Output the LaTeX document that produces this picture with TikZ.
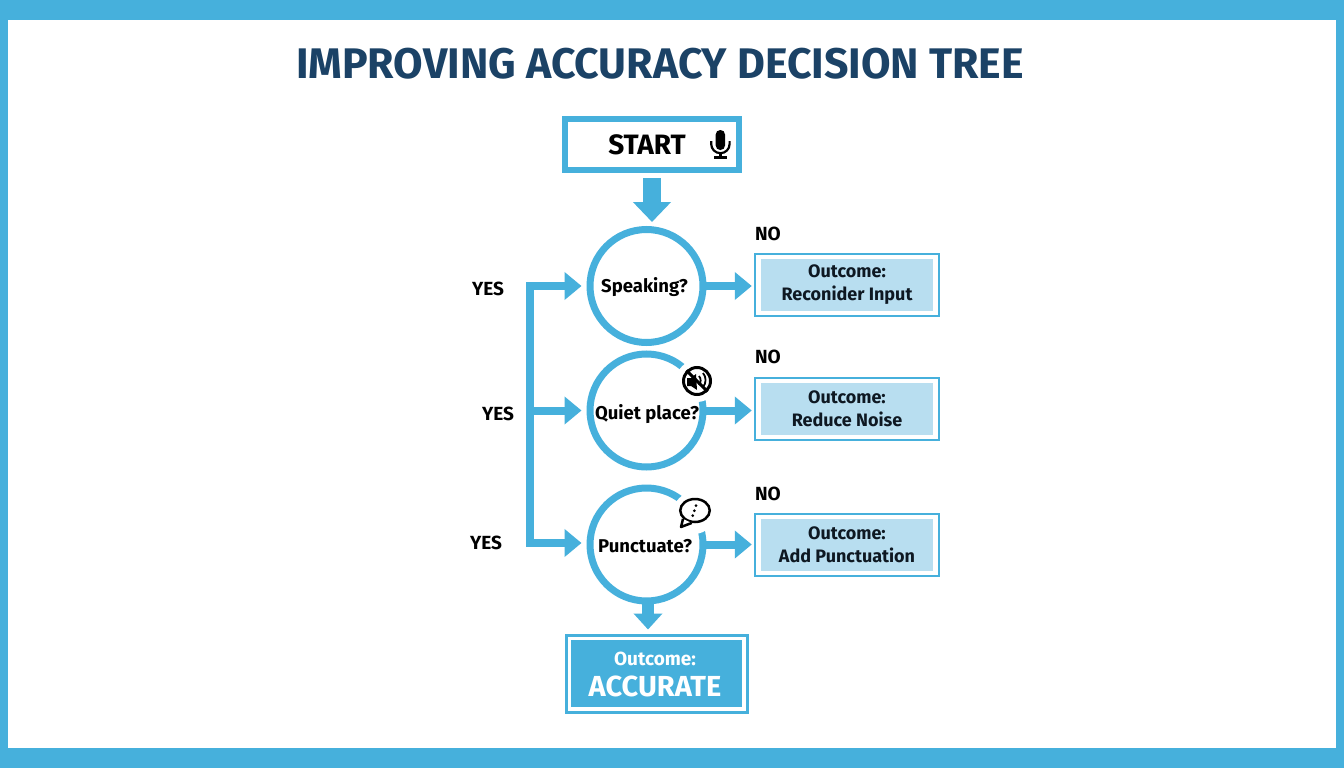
\documentclass[tikz,border=0pt]{standalone}
\usepackage{fontspec}
\setmainfont{Fira Sans}
\usetikzlibrary{arrows.meta,shapes.geometric}
\begin{document}
\begin{tikzpicture}[x=1pt,y=-1pt]
\definecolor{framecolor}{RGB}{70,176,220}
\definecolor{palecolor}{RGB}{184,222,240}
\definecolor{titlecolor}{RGB}{27,66,102}
\definecolor{inkcolor}{RGB}{14,24,34}
\tikzstyle{question}=[draw=framecolor,line width=7pt,circle,minimum size=113pt,inner sep=0pt]
\tikzstyle{asktext}=[text=black,font=\fontsize{18.5}{23}\selectfont\bfseries]
\tikzstyle{yesno}=[text=black,font=\fontsize{19}{23}\selectfont\bfseries]
\tikzstyle{frame}=[draw=framecolor,line width=2.5pt,fill=white,minimum width=184pt,minimum height=62pt,inner sep=0pt]
\tikzstyle{outcome}=[fill=palecolor,minimum width=172pt,minimum height=52pt,inner sep=0pt,align=center,text=inkcolor,font=\fontsize{18}{23}\selectfont\bfseries,execute at begin node=\rule{0pt}{16pt}]
\tikzstyle{arrow}=[framecolor,line width=8pt,-{Triangle[length=17pt,width=27pt]}]
\tikzstyle{halo}=[circle,fill=white,minimum size=42pt,inner sep=0pt]
\useasboundingbox (0,0) rectangle (1344,768);
\fill[framecolor] (0,0) rectangle (1344,768);
\fill[white] (8,20) rectangle (1336,748);
\node[text=titlecolor,font=\fontsize{42.8}{46}\selectfont\bfseries] (title) at (660,64) {IMPROVING ACCURACY DECISION TREE};
\node[draw=framecolor,line width=6pt,fill=white,minimum width=174pt,minimum height=51pt,inner sep=0pt] (start) at (652,144.5) {};
\node[font=\fontsize{28}{32}\selectfont\bfseries,text=black] (starttext) at (647,145) {START};
\node[question] (q1) at (646.5,286) {};
\node[question] (q2) at (646.5,410.5) {};
\node[question] (q3) at (646.5,544.5) {};
\node[halo] (noiseicon) at (697,381) {};
\node[halo] (speechicon) at (694,513) {};
\node[asktext] (q1text) at (644.5,287.5) {Speaking?};
\node[asktext] (q2text) at (647,414) {Quiet place?};
\node[asktext] (q3text) at (645,546) {Punctuate?};
\node[frame] (r1frame) at (847,285) {};
\node[outcome] (r1) at (847,285) {Outcome:\\Reconider Input};
\node[frame] (r2frame) at (847,409) {};
\node[outcome] (r2) at (847,409) {Outcome:\\Reduce Noise};
\node[frame] (r3frame) at (847,545) {};
\node[outcome] (r3) at (847,545) {Outcome:\\Add Punctuation};
\node[draw=framecolor,line width=3pt,fill=white,minimum width=181pt,minimum height=77pt,inner sep=0pt] (finalframe) at (656.5,673.5) {};
\node[fill=framecolor,minimum width=171pt,minimum height=67pt,inner sep=0pt] (final) at (656.5,673.5) {};
\node[text=white,font=\fontsize{19}{23}\selectfont\bfseries] (finaltop) at (655,658.5) {Outcome:};
\node[text=white,font=\fontsize{29}{33}\selectfont\bfseries] (finalbot) at (655,686) {ACCURATE};
\node[yesno] (no1) at (768,234) {NO};
\node[yesno] (no2) at (768,357) {NO};
\node[yesno] (no3) at (768,494) {NO};
\node[yesno] (yes1) at (488,289) {YES};
\node[yesno] (yes2) at (498,414) {YES};
\node[yesno] (yes3) at (486,543) {YES};
\coordinate (trunktop) at (530,286);
\coordinate (trunkmid) at (530,410.5);
\coordinate (trunkbot) at (530,543);
\draw[framecolor,line width=8pt,line cap=rect] (trunktop) -- (trunkbot);
\draw[arrow,shorten >=5pt] (trunktop) -- (q1.west);
\draw[arrow,shorten >=5pt] (trunkmid) -- (q2.west);
\draw[arrow,shorten >=5pt] (trunkbot) -- (q3.west |- trunkbot);
\draw[arrow,shorten <=-3pt,shorten >=2pt] (q1.east) -- (r1frame.west |- q1.east);
\draw[arrow,shorten <=-3pt,shorten >=2pt] (q2.east) -- (r2frame.west |- q2.east);
\draw[arrow,shorten <=-3pt,shorten >=2pt] (q3.east) -- (r3frame.west |- q3.east);
\draw[framecolor,line width=18pt,shorten <=5pt,shorten >=4pt,-{Triangle[length=20pt,width=37pt]}] (start.south) -- (start.south |- q1.north);
\draw[framecolor,line width=12pt,shorten <=-3pt,shorten >=4pt,-{Triangle[length=16pt,width=28pt]}] ([xshift=1.5pt]q3.south) -- ([xshift=1.5pt]q3.south |- finalframe.north);
\fill[black,rounded corners=4.5pt] (715.7,130) rectangle (725,150);
\draw[black,line width=2.2pt] (711.2,141) -- (711.2,144) arc[start angle=180,end angle=0,radius=9.2] -- (729.6,141);
\draw[black,line width=2.2pt] (720.4,153) -- (720.4,157.5) (714,157.5) -- (726.5,157.5);
\node[draw=black,line width=3pt,circle,minimum size=27pt,inner sep=0pt] (noring) at (697,381) {};
\fill[black] (687,378) -- (691,378) -- (696,374) -- (697,390) -- (691,386) -- (687,386) -- cycle;
\draw[black,line width=1.8pt] (699,376) arc[start angle=-40,end angle=40,radius=7] (703,373) arc[start angle=-40,end angle=40,radius=11];
\draw[black,line width=3pt] (noring.135) -- (noring.-45);
\node[draw=black,line width=2.5pt,ellipse,minimum width=29.5pt,minimum height=23pt,inner sep=0pt] (bubble) at (695,510.5) {};
\draw[black,line width=2.5pt,line join=round,fill=white] (bubble.-145) -- (681,527) -- (bubble.-105);
\fill[black] (696,505.7) circle[radius=1.5] (694.3,510.7) circle[radius=1.5] (692.7,515.7) circle[radius=1.5];
\end{tikzpicture}
\end{document}
